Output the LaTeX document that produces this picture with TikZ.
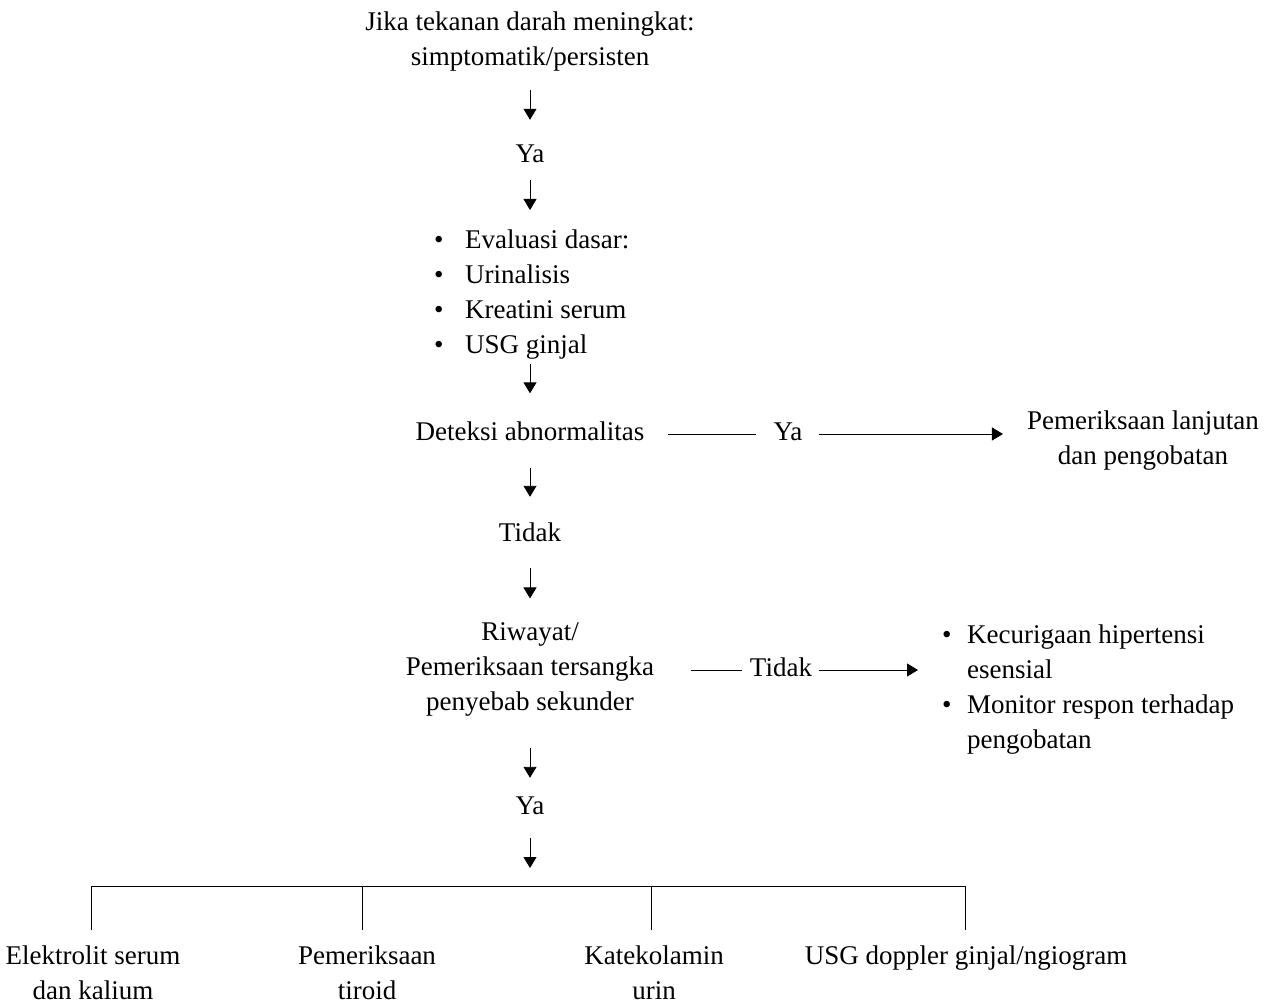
\documentclass[tikz,border=0pt]{standalone}
\usepackage{fontspec}
\setmainfont{Liberation Serif}
\usetikzlibrary{arrows.meta}

\tikzset{
  txt/.style={font=\fontsize{27}{35}\selectfont, inner sep=0pt, align=center},
  one/.style={txt, text height=19pt, text depth=6pt},
  arr/.style={line width=0.9pt, -{Triangle[width=13pt,length=11pt]}},
  ln/.style={line width=0.9pt}
}
\newcommand{\bul}[1]{\makebox[#1][l]{\textbullet}}

\begin{document}
\begin{tikzpicture}[x=1pt,y=-1pt]
\useasboundingbox (0,0) rectangle (1265,1008);
%MAIN
\node[txt] (jika) at (530,42) {Jika tekanan darah meningkat:\\simptomatik/persisten};
\node[one] (ya1) at (530,156.5) {Ya};
\node[txt, anchor=north west, align=left] (eval) at (434,230) {\bul{31pt}Evaluasi dasar:\\\bul{31pt}Urinalisis\\\bul{31pt}Kreatini serum\\\bul{31pt}USG ginjal};
\node[one] (deteksi) at (530,434) {Deteksi abnormalitas};
\node[one] (tidak1) at (530,534.5) {Tidak};
\node[txt] (riwayat) at (530,669.5) {Riwayat/\\Pemeriksaan tersangka\\penyebab sekunder};
\node[one] (ya3) at (530,807.5) {Ya};
%SIDE
\node[one] (ya2) at (788,434) {Ya};
\node[txt] (lanjut) at (1143,441) {Pemeriksaan lanjutan\\dan pengobatan};
\node[one] (tidak2) at (781,670) {Tidak};
\node[txt, anchor=north west, align=left] (esensial) at (942,625) {\bul{25pt}Kecurigaan hipertensi\\\hspace*{25pt}esensial\\\bul{25pt}Monitor respon terhadap\\\hspace*{25pt}pengobatan};
%LEAVES
\node[txt, anchor=north] (elektro) at (93,946) {Elektrolit serum\\dan kalium};
\node[txt, anchor=north] (tiroid) at (367,946) {Pemeriksaan\\tiroid};
\node[txt, anchor=north] (kateko) at (654,946) {Katekolamin\\urin};
\node[txt, anchor=north] (doppler) at (966,946) {USG doppler ginjal/ngiogram};
\coordinate (bar) at (530,886);
\coordinate (d1) at (91,886);
\coordinate (d2) at (362,886);
\coordinate (d3) at (651,886);
\coordinate (d4) at (965,886);
% Arrows down
\draw[arr, shorten <=18pt, shorten >=24pt] (jika) -- (ya1);
\draw[arr, shorten <=11pt, shorten >=20pt] (ya1) -- (ya1 |- eval.north);
\draw[arr, shorten <=4pt, shorten >=28pt] (eval.south -| deteksi) -- (deteksi);
\draw[arr, shorten <=21pt, shorten >=25pt] (deteksi) -- (tidak1);
\draw[arr, shorten <=21pt, shorten >=24pt] (tidak1) -- (riwayat);
\draw[arr, shorten <=31pt, shorten >=17pt] (riwayat) -- (ya3);
\draw[arr, shorten <=18pt, shorten >=18pt] (ya3) -- (bar);
% Arrows right
\draw[ln, shorten <=23pt, shorten >=17pt] (deteksi) -- (ya2);
\draw[arr, shorten <=16pt, shorten >=24pt] (ya2) -- (lanjut.west |- ya2);
\draw[ln, shorten <=37pt, shorten >=8pt] (riwayat.east |- tidak2) -- (tidak2);
\draw[arr, shorten <=7pt, shorten >=24pt] (tidak2) -- (esensial.west |- tidak2);
% Branches
\draw[ln] (d1) -- (d4);
\foreach \d/\n in {d1/elektro, d2/tiroid, d3/kateko, d4/doppler}
  \draw[ln, shorten >=16pt] (\d) -- (\d |- \n.north);
\end{tikzpicture}
\end{document}
